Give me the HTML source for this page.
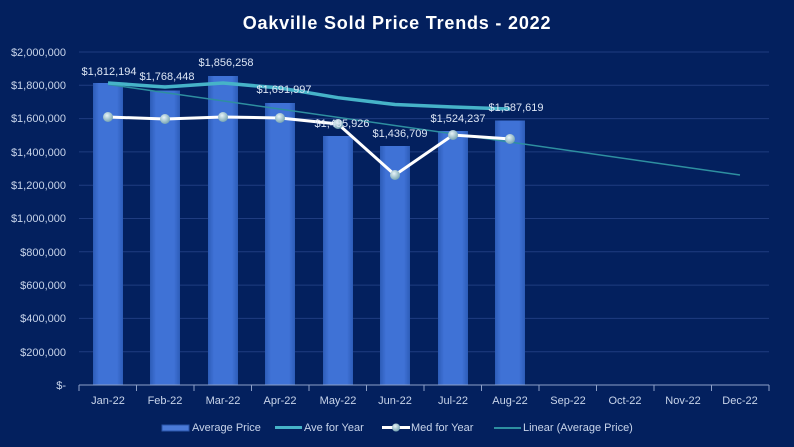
<!DOCTYPE html>
<html><head><style>
body{margin:0;background:#03205e;}
svg{display:block;font-family:"Liberation Sans",sans-serif;}
</style></head><body>
<svg width="794" height="447" viewBox="0 0 794 447">
<defs>
<linearGradient id="bar" x1="0" x2="1" y1="0" y2="0">
<stop offset="0" stop-color="#2d5cb8"/><stop offset="0.2" stop-color="#3f72d6"/><stop offset="0.8" stop-color="#3f72d6"/><stop offset="1" stop-color="#2d5cb8"/>
</linearGradient>
<radialGradient id="dot" cx="0.4" cy="0.35" r="0.7"><stop offset="0" stop-color="#e8f4f8"/><stop offset="1" stop-color="#6f9fae"/></radialGradient>
</defs>
<rect width="794" height="447" fill="#03205e"/>
<text x="397" y="29" text-anchor="middle" fill="#fff" font-size="18" font-weight="bold" letter-spacing="0.8">Oakville  Sold  Price  Trends  - 2022</text>
<g stroke="#1f3c80" stroke-width="1">
<line x1="79" x2="769" y1="52" y2="52"/><line x1="79" x2="769" y1="85.3" y2="85.3"/><line x1="79" x2="769" y1="118.6" y2="118.6"/><line x1="79" x2="769" y1="151.9" y2="151.9"/><line x1="79" x2="769" y1="185.2" y2="185.2"/><line x1="79" x2="769" y1="218.5" y2="218.5"/><line x1="79" x2="769" y1="251.8" y2="251.8"/><line x1="79" x2="769" y1="285.1" y2="285.1"/><line x1="79" x2="769" y1="318.4" y2="318.4"/><line x1="79" x2="769" y1="351.7" y2="351.7"/>
</g>
<g fill="#c8d4ea" font-size="11" text-anchor="end">
<text x="66" y="56">$2,000,000</text><text x="66" y="89">$1,800,000</text><text x="66" y="122">$1,600,000</text><text x="66" y="156">$1,400,000</text><text x="66" y="189">$1,200,000</text><text x="66" y="222">$1,000,000</text><text x="66" y="256">$800,000</text><text x="66" y="289">$600,000</text><text x="66" y="322">$400,000</text><text x="66" y="356">$200,000</text><text x="66" y="389">$-</text>
</g>
<g fill="url(#bar)">
<rect x="93" y="83" width="30" height="302"/><rect x="150" y="90.5" width="30" height="294.5"/><rect x="208" y="76" width="30" height="309"/><rect x="265" y="103" width="30" height="282"/><rect x="323" y="136" width="30" height="249"/><rect x="380" y="146" width="30" height="239"/><rect x="438" y="131" width="30" height="254"/><rect x="495" y="120.5" width="30" height="264.5"/>
</g>
<line x1="79" x2="769" y1="385" y2="385" stroke="#8da0c8"/>
<g stroke="#8da0c8"><line x1="79" x2="79" y1="385" y2="391"/><line x1="136.5" x2="136.5" y1="385" y2="391"/><line x1="194" x2="194" y1="385" y2="391"/><line x1="251.5" x2="251.5" y1="385" y2="391"/><line x1="309" x2="309" y1="385" y2="391"/><line x1="366.5" x2="366.5" y1="385" y2="391"/><line x1="424" x2="424" y1="385" y2="391"/><line x1="481.5" x2="481.5" y1="385" y2="391"/><line x1="539" x2="539" y1="385" y2="391"/><line x1="596.5" x2="596.5" y1="385" y2="391"/><line x1="654" x2="654" y1="385" y2="391"/><line x1="711.5" x2="711.5" y1="385" y2="391"/><line x1="769" x2="769" y1="385" y2="391"/></g>
<g fill="#c8d4ea" font-size="11" text-anchor="middle">
<text x="108" y="404">Jan-22</text><text x="165" y="404">Feb-22</text><text x="223" y="404">Mar-22</text><text x="280" y="404">Apr-22</text><text x="338" y="404">May-22</text><text x="395" y="404">Jun-22</text><text x="453" y="404">Jul-22</text><text x="510" y="404">Aug-22</text><text x="568" y="404">Sep-22</text><text x="625" y="404">Oct-22</text><text x="683" y="404">Nov-22</text><text x="740" y="404">Dec-22</text>
</g>
<line x1="108" y1="84.4" x2="740" y2="175" stroke="#2e8fa0" stroke-width="1.5"/>
<polyline points="108,83 165,87 223,83 280,88 338,97.7 395,104.5 453,107 510,109" fill="none" stroke="#46b3c8" stroke-width="3.5"/>
<polyline points="108,117 165,119 223,117 280,118 338,124 395,175 453,135 510,139" fill="none" stroke="#fff" stroke-width="3"/>
<g fill="url(#dot)">
<circle cx="108" cy="117" r="5"/><circle cx="165" cy="119" r="5"/><circle cx="223" cy="117" r="5"/><circle cx="280" cy="118" r="5"/><circle cx="338" cy="124" r="5"/><circle cx="395" cy="175" r="5"/><circle cx="453" cy="135" r="5"/><circle cx="510" cy="139" r="5"/>
</g>
<g fill="#dde6f5" font-size="11" text-anchor="middle">
<text x="109" y="75">$1,812,194</text><text x="167" y="80">$1,768,448</text><text x="226" y="66">$1,856,258</text><text x="284" y="93">$1,691,997</text><text x="342" y="127">$1,495,926</text><text x="400" y="137">$1,436,709</text><text x="458" y="122">$1,524,237</text><text x="516" y="111">$1,587,619</text>
</g>
<g font-size="11" fill="#c8d4ea">
<rect x="162" y="425" width="27" height="6" fill="#4a7ad8" stroke="#2a54a8"/><text x="192" y="431">Average Price</text>
<rect x="275" y="426" width="27" height="3" fill="#46b3c8"/><text x="304" y="431">Ave for Year</text>
<rect x="382" y="426" width="28" height="3" fill="#fff"/><circle cx="396" cy="427.5" r="4" fill="url(#dot)"/><text x="411" y="431">Med for Year</text>
<rect x="494" y="427" width="27" height="2" fill="#2e8fa0"/><text x="523" y="431">Linear (Average Price)</text>
</g>
</svg>
</body></html>
